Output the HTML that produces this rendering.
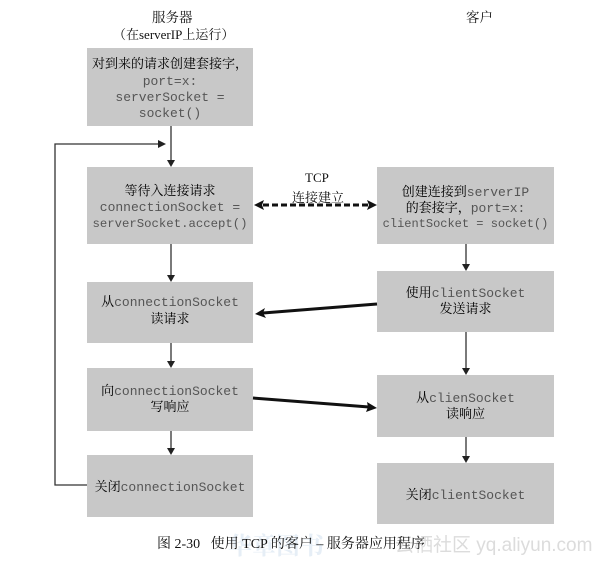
<!DOCTYPE html>
<html><head><meta charset="utf-8">
<style>
html,body{margin:0;padding:0;background:#fff;}
body{width:602px;height:557px;position:relative;overflow:hidden;}
.box{position:absolute;background:#c8c8c8;}
.t{position:absolute;left:0;right:0;text-align:center;white-space:nowrap;line-height:16px;}
.c{font-family:"Liberation Serif","Noto Serif CJK SC",serif;font-size:13px;color:#000;}
.m{font-family:"Liberation Mono",monospace;font-size:13px;color:#555;}
.s{font-family:"Liberation Serif","Noto Serif CJK SC",serif;color:#111;position:absolute;white-space:nowrap;}
svg{position:absolute;left:0;top:0;}
</style></head><body>

<div class="s" style="left:152px;top:6px;font-size:13.5px;">服务器</div>
<div class="s" style="left:113px;top:24px;font-size:13px;">（在serverIP上运行）</div>
<div class="s" style="left:466px;top:6px;font-size:13.5px;">客户</div>

<!-- server boxes -->
<div class="box" style="left:87px;top:48px;width:166px;height:78px;">
  <div class="t c" style="top:8px;">对到来的请求创建套接字，</div>
  <div class="t m" style="top:26px;">port=x:</div>
  <div class="t m" style="top:42px;">serverSocket =</div>
  <div class="t m" style="top:58px;">socket()</div>
</div>
<div class="box" style="left:87px;top:167px;width:166px;height:77px;">
  <div class="t c" style="top:16px;">等待入连接请求</div>
  <div class="t m" style="top:33px;">connectionSocket =</div>
  <div class="t m" style="top:49px;font-size:12.3px;">serverSocket.accept()</div>
</div>
<div class="box" style="left:87px;top:282px;width:166px;height:61px;">
  <div class="t" style="top:12px;"><span class="c">从</span><span class="m">connectionSocket</span></div>
  <div class="t c" style="top:29px;">读请求</div>
</div>
<div class="box" style="left:87px;top:368px;width:166px;height:63px;">
  <div class="t" style="top:15px;"><span class="c">向</span><span class="m">connectionSocket</span></div>
  <div class="t c" style="top:31px;">写响应</div>
</div>
<div class="box" style="left:87px;top:455px;width:166px;height:62px;">
  <div class="t" style="top:24px;"><span class="c">关闭</span><span class="m">connectionSocket</span></div>
</div>

<!-- client boxes -->
<div class="box" style="left:377px;top:167px;width:177px;height:77px;">
  <div class="t" style="top:17px;"><span class="c">创建连接到</span><span class="m">serverIP</span></div>
  <div class="t" style="top:33px;"><span class="c">的套接字，</span><span class="m">port=x:</span></div>
  <div class="t m" style="top:49px;font-size:12px;">clientSocket = socket()</div>
</div>
<div class="box" style="left:377px;top:271px;width:177px;height:61px;">
  <div class="t" style="top:14px;"><span class="c">使用</span><span class="m">clientSocket</span></div>
  <div class="t c" style="top:30px;">发送请求</div>
</div>
<div class="box" style="left:377px;top:375px;width:177px;height:62px;">
  <div class="t" style="top:15px;"><span class="c">从</span><span class="m">clienSocket</span></div>
  <div class="t c" style="top:31px;">读响应</div>
</div>
<div class="box" style="left:377px;top:463px;width:177px;height:61px;">
  <div class="t" style="top:24px;"><span class="c">关闭</span><span class="m">clientSocket</span></div>
</div>

<div class="s" style="left:305px;top:170px;font-size:13px;">TCP</div>
<div class="s" style="left:292px;top:187px;font-size:13px;">连接建立</div>

<!-- watermark -->
<div class="s" style="left:228px;top:526px;font-size:24px;color:#e6eef6;font-weight:bold;">华章图书</div>
<div class="s" style="left:395px;top:530px;font-size:19px;color:#dcdcdc;font-family:'Liberation Sans','Noto Sans CJK SC',sans-serif;">云栖社区 yq.aliyun.com</div>

<div class="s" style="left:157px;top:533px;font-size:14px;">图 2-30&nbsp;&nbsp;&nbsp;使用 TCP 的客户 – 服务器应用程序</div>

<svg width="602" height="557" viewBox="0 0 602 557">
  <g stroke="#333" stroke-width="1.3" fill="none">
    <line x1="171" y1="126" x2="171" y2="161"/>
    <line x1="171" y1="244" x2="171" y2="276"/>
    <line x1="171" y1="343" x2="171" y2="362"/>
    <line x1="171" y1="431" x2="171" y2="449"/>
    <line x1="466" y1="244" x2="466" y2="265"/>
    <line x1="466" y1="332" x2="466" y2="369"/>
    <line x1="466" y1="437" x2="466" y2="457"/>
    <polyline points="87,485 55,485 55,144 159,144"/>
  </g>
  <g fill="#222">
    <polygon points="167,160 175,160 171,167"/>
    <polygon points="167,275 175,275 171,282"/>
    <polygon points="167,361 175,361 171,368"/>
    <polygon points="167,448 175,448 171,455"/>
    <polygon points="462,264 470,264 466,271"/>
    <polygon points="462,368 470,368 466,375"/>
    <polygon points="462,456 470,456 466,463"/>
    <polygon points="158,140 166,144 158,148"/>
  </g>
  <!-- TCP dashed -->
  <line x1="263" y1="205" x2="369" y2="205" stroke="#111" stroke-width="3" stroke-dasharray="6,3"/>
  <polygon points="254,205 264,200 262,205 264,210" fill="#111"/>
  <polygon points="377,205 367,200 369,205 367,210" fill="#111"/>
  <!-- request -->
  <line x1="377" y1="304" x2="263" y2="313" stroke="#111" stroke-width="3"/>
  <polygon points="255,314 265,308 263,313 266,318" fill="#111"/>
  <!-- response -->
  <line x1="253" y1="398" x2="369" y2="407" stroke="#111" stroke-width="3"/>
  <polygon points="377,408 366,412 368,407 367,402" fill="#111"/>
</svg>
</body></html>
